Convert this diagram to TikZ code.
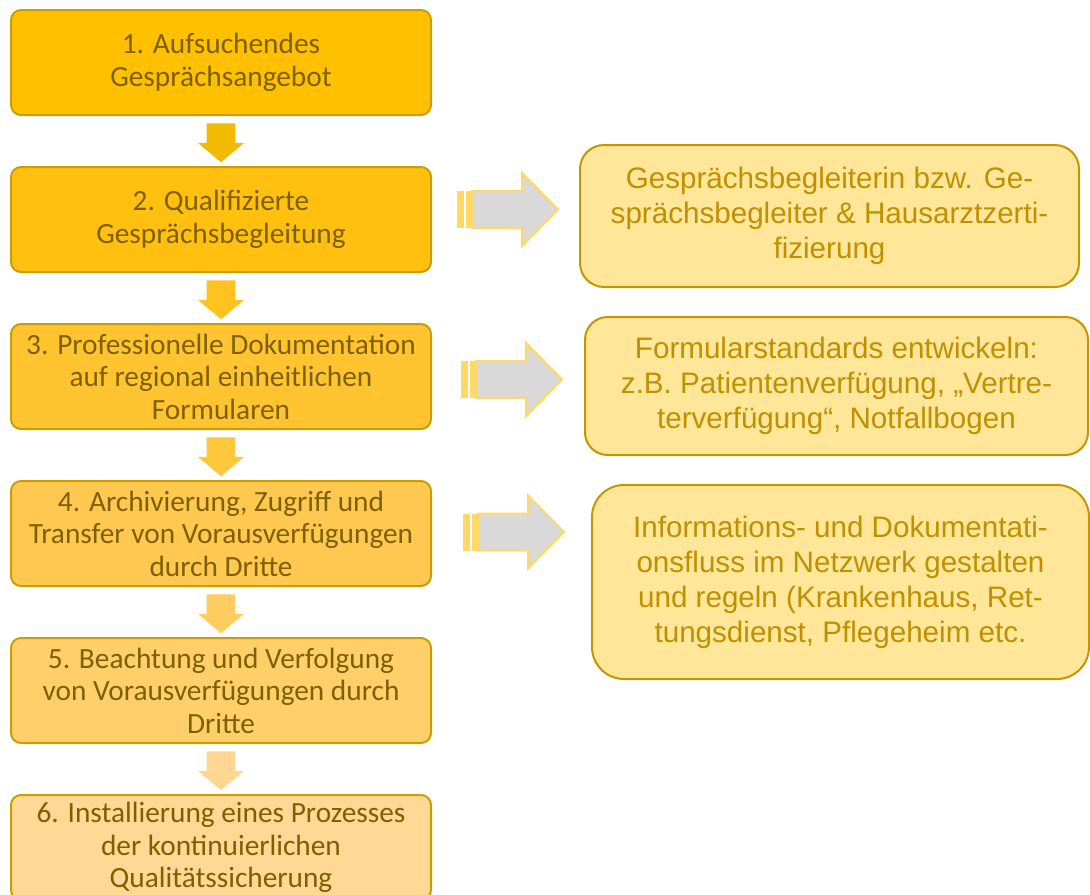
\documentclass[tikz,border=0pt]{standalone}
\usepackage{fontspec}
\setmainfont{Carlito}
\newfontfamily\arialfont{Liberation Sans}
\usetikzlibrary{shapes.arrows}
\usetikzlibrary{calc}

\begin{document}
\begin{tikzpicture}[x=0.75pt,y=0.75pt,yscale=-1,xscale=1,
  stepbox/.style={draw={rgb, 255:red, 200; green, 158; blue, 0 }, line width=1.5pt, rounded corners=7.5pt, minimum width=315pt, minimum height=78.75pt, inner sep=0pt, align=center, text={rgb, 255:red, 127; green, 96; blue, 0 }, font=\fontsize{22}{24.4}\selectfont},
  notebox/.style={draw={rgb, 255:red, 196; green, 150; blue, 0 }, fill={rgb, 255:red, 255; green, 230; blue, 153 }, line width=1.5pt, inner sep=0pt, align=center, text={rgb, 255:red, 191; green, 144; blue, 0 }, font=\arialfont\fontsize{22.2}{26.25}\selectfont},
  downarr/.style={single arrow, shape border rotate=270, anchor=tail, draw=none, inner xsep=10.5pt, inner ysep=0pt, minimum height=29.25pt, single arrow head extend=6.75pt, single arrow tip angle=100},
  sidearr/.style={single arrow, anchor=tail, draw={rgb, 255:red, 255; green, 217; blue, 102 }, fill={rgb, 255:red, 217; green, 217; blue, 217 }, line width=1.5pt, inner xsep=0pt, inner ysep=13.1pt, minimum height=64.5pt, single arrow head extend=13.5pt, single arrow tip angle=91},
  stripe/.style={fill={rgb, 255:red, 255; green, 217; blue, 102 }}
]
\useasboundingbox (0,0) rectangle (1090,894);
\clip (0,0) rectangle (1090,894);

%Shape: Rounded Rect [steps]
\node[stepbox, fill={rgb, 255:red, 255; green, 192; blue, 0 }] (b1) at (221,62.5) {1. Aufsuchendes\\Gesprächsangebot};
\node[stepbox, fill={rgb, 255:red, 255; green, 192; blue, 16 }] (b2) at (221,219.5) {2. Qualifizierte\\Gesprächsbegleitung};
\node[stepbox, fill={rgb, 255:red, 255; green, 196; blue, 48 }] (b3) at (221,376.5) {3. Professionelle Dokumentation\\auf regional einheitlichen\\Formularen};
\node[stepbox, fill={rgb, 255:red, 255; green, 200; blue, 80 }] (b4) at (221,533.5) {4. Archivierung, Zugriff und\\Transfer von Vorausverfügungen\\durch Dritte};
\node[stepbox, fill={rgb, 255:red, 255; green, 207; blue, 108 }] (b5) at (221,690.5) {5. Beachtung und Verfolgung\\von Vorausverfügungen durch\\Dritte};
\node[stepbox, fill={rgb, 255:red, 255; green, 216; blue, 150 }] (b6) at (221,847.5) {6. Installierung eines Prozesses\\der kontinuierlichen\\Qualitätssicherung};

%Shape: Down Arrow
\node[downarr, fill={rgb, 255:red, 242; green, 186; blue, 0 }] (d1) at ($(b1.south)+(0,7)$) {};
\node[downarr, fill={rgb, 255:red, 255; green, 194; blue, 31 }] (d2) at ($(b2.south)+(0,7)$) {};
\node[downarr, fill={rgb, 255:red, 255; green, 200; blue, 60 }] (d3) at ($(b3.south)+(0,7)$) {};
\node[downarr, fill={rgb, 255:red, 255; green, 204; blue, 96 }] (d4) at ($(b4.south)+(0,7)$) {};
\node[downarr, fill={rgb, 255:red, 255; green, 215; blue, 146 }] (d5) at ($(b5.south)+(0,7)$) {};

%Shape: Rounded Rect [notes]
\node[notebox, rounded corners=18pt, minimum width=374.25pt, minimum height=106.5pt] (r1) at (829.5,216) {Gesprächsbegleiterin bzw. Ge-\\sprächsbegleiter \& Hausarztzerti-\\fizierung};
\node[notebox, rounded corners=17pt, minimum width=377.25pt, minimum height=103.5pt] (r2) at (836.5,386) {Formularstandards entwickeln:\\z.B. Patientenverfügung, „Vertre-\\terverfügung“, Notfallbogen};
\node[notebox, rounded corners=24pt, minimum width=372.75pt, minimum height=145.5pt] (r3) at (840.5,582) {Informations- und Dokumentati-\\onsfluss im Netzwerk gestalten\\und regeln (Krankenhaus, Ret-\\tungsdienst, Pflegeheim etc.};

%Shape: Striped Right Arrow
\node[sidearr] (s1) at ($(b2.east)+(39,-10)$) {};
\node[sidearr] (s2) at ($(b3.east)+(43,3)$) {};
\node[sidearr] (s3) at ($(b4.east)+(45,-1.5)$) {};
\foreach \s in {s1,s2,s3}{
  \fill[stripe] ($(\s.tail)+(-14,-18.5)$) rectangle ($(\s.tail)+(-7,18.5)$);
  \fill[stripe] ($(\s.tail)+(-5,-18.5)$) rectangle ($(\s.tail)+(0,18.5)$);
}

\end{tikzpicture}
\end{document}
